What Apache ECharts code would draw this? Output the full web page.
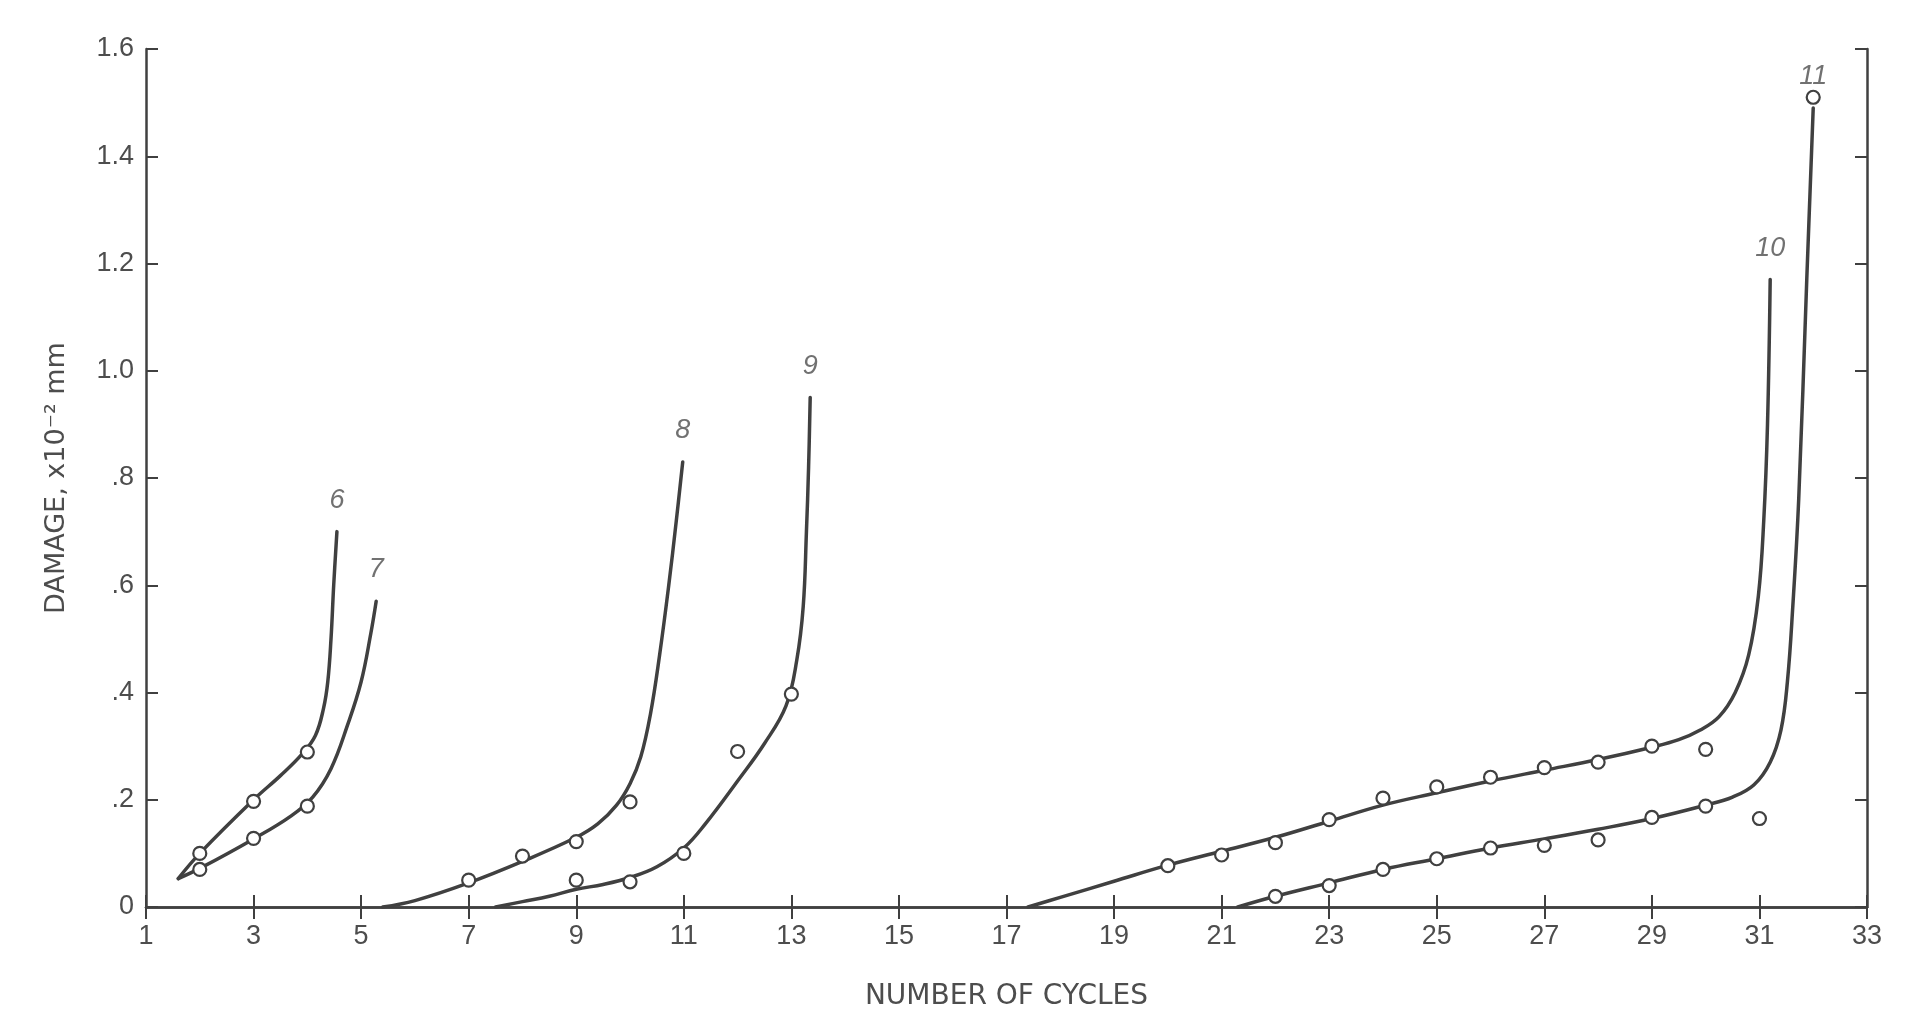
<!DOCTYPE html>
<html>
<head>
<meta charset="utf-8">
<script src="https://cdn.jsdelivr.net/npm/echarts@6/dist/echarts.min.js"></script>
<style>
html,body{margin:0;padding:0;background:#fff;}
#chart{width:1905px;height:1016px;}
</style>
</head>
<body>
<div id="chart"></div>
<script>
// ---- data ----
const xTicks = [1,3,5,7,9,11,13,15,17,19,21,23,25,27,29,31,33];
const yTicks = [0,0.2,0.4,0.6,0.8,1.0,1.2,1.4,1.6];
const curveNames = ['6','7','8','9','10','11'];

const curve6 = [[1.6,0.053],[2,0.10],[3,0.20],[3.5,0.245],[3.9,0.285],[4.15,0.32],[4.3,0.37],[4.38,0.42],[4.44,0.5],[4.49,0.6],[4.55,0.70]];
const pts6 = [[2,0.10],[3,0.197],[4,0.289]];

const curve7 = [[1.6,0.053],[2,0.072],[3,0.127],[3.7,0.17],[4.1,0.205],[4.44,0.258],[4.75,0.34],[5.0,0.42],[5.18,0.51],[5.28,0.57]];
const pts7 = [[2,0.07],[3,0.128],[4,0.188]];

const curve8 = [[5.4,0],[6,0.012],[7,0.045],[8,0.085],[9,0.13],[9.4,0.155],[9.75,0.19],[10.0,0.23],[10.2,0.28],[10.38,0.36],[10.55,0.47],[10.72,0.6],[10.86,0.72],[10.98,0.83]];
const pts8 = [[7,0.05],[8,0.095],[9,0.122],[10,0.196]];

const curve9 = [[7.5,0],[8,0.01],[8.5,0.02],[9,0.033],[9.5,0.042],[10,0.055],[10.5,0.075],[11,0.11],[11.4,0.155],[12,0.235],[12.5,0.305],[12.9,0.375],[13.1,0.46],[13.22,0.56],[13.28,0.7],[13.32,0.82],[13.35,0.95]];
const pts9 = [[9,0.05],[10,0.047],[11,0.10],[12,0.29],[13,0.397]];

const curve10 = [[17.4,0],[18,0.018],[19,0.048],[20,0.078],[21,0.104],[22,0.13],[23,0.16],[24,0.19],[25,0.213],[26,0.235],[27,0.255],[28,0.275],[29,0.298],[29.5,0.312],[29.9,0.33],[30.25,0.355],[30.55,0.40],[30.8,0.47],[30.98,0.58],[31.08,0.72],[31.15,0.9],[31.2,1.17]];
const pts10 = [[20,0.077],[21,0.097],[22,0.12],[23,0.163],[24,0.203],[25,0.224],[26,0.242],[27,0.26],[28,0.27],[29,0.30],[30,0.294]];

const curve11 = [[21.3,0],[22,0.02],[23,0.045],[24,0.07],[25,0.09],[26,0.11],[27,0.127],[28,0.145],[29,0.165],[30,0.19],[30.5,0.205],[30.9,0.228],[31.2,0.27],[31.4,0.33],[31.52,0.42],[31.62,0.56],[31.73,0.76],[31.88,1.17],[32.0,1.49]];
const pts11 = [[22,0.02],[23,0.04],[24,0.07],[25,0.09],[26,0.11],[27,0.115],[28,0.125],[29,0.167],[30,0.188],[31,0.165],[32,1.51]];

const curves = [curve6,curve7,curve8,curve9,curve10,curve11];
const points = [pts6,pts7,pts8,pts9,pts10,pts11];

// ---- chart ----
const INK = '#404040';
const TXT = '#4d4d4d';
const FONT = 'Liberation Sans';
const chart = echarts.init(document.getElementById('chart'));

const series = [];
curves.forEach((c) => {
  series.push({
    type: 'line',
    data: c,
    smooth: 0.4,
    showSymbol: false,
    symbol: 'none',
    lineStyle: {color: INK, width: 3.5, cap: 'round', join: 'round'},
    z: 2,
    silent: true
  });
});
points.forEach((p) => {
  series.push({
    type: 'scatter',
    data: p,
    symbol: 'circle',
    symbolSize: 13,
    itemStyle: {color: '#fff', borderColor: INK, borderWidth: 2.2, opacity: 1},
    z: 3,
    silent: true
  });
});
// curve number labels, anchored at each curve's end
series.push({
  type: 'scatter',
  symbolSize: 0,
  data: curves.map((c, k) => ({name: curveNames[k], value: c[c.length - 1]})),
  label: {show: true, position: 'top', distance: 18, formatter: '{b}',
    fontStyle: 'italic', fontSize: 27, color: TXT, fontFamily: FONT},
  z: 4,
  silent: true
});

const yFmt = v => {
  if (Math.abs(v) < 1e-9) return '0';
  if (v < 1) return '.' + Math.round(v * 10);
  return v.toFixed(1);
};

chart.setOption({
  animation: false,
  backgroundColor: '#fff',
  grid: {left: 146, right: 38, top: 49, bottom: 107},
  xAxis: [{
    type: 'value', min: xTicks[0], max: xTicks[xTicks.length - 1], interval: 2,
    name: 'NUMBER OF CYCLES', nameLocation: 'middle', nameGap: 76,
    nameTextStyle: {color: TXT, fontSize: 28, fontFamily: 'DejaVu Sans'},
    axisLine: {show: true, lineStyle: {color: INK, width: 2.5}},
    axisTick: {show: true, inside: true, length: 12, lineStyle: {color: INK, width: 2}},
    axisLabel: {color: TXT, fontSize: 27, fontFamily: FONT, margin: 16},
    splitLine: {show: false}
  }, {
    type: 'value', position: 'top', min: xTicks[0], max: xTicks[xTicks.length - 1], interval: 2,
    axisLine: {show: true, lineStyle: {color: INK, width: 2.5}},
    axisTick: {show: true, inside: true, length: 12, lineStyle: {color: INK, width: 2}},
    axisLabel: {show: false},
    splitLine: {show: false}
  }],
  yAxis: [{
    type: 'value', min: yTicks[0], max: yTicks[yTicks.length - 1], interval: 0.2,
    name: 'DAMAGE, x10⁻² mm', nameLocation: 'middle', nameGap: 76, nameRotate: 90,
    nameTextStyle: {color: TXT, fontSize: 27, fontFamily: 'DejaVu Sans'},
    axisLine: {show: true, lineStyle: {color: INK, width: 2.5}},
    axisTick: {show: true, inside: true, length: 12, lineStyle: {color: INK, width: 2}},
    axisLabel: {color: TXT, fontSize: 27, fontFamily: FONT, margin: 12, formatter: yFmt},
    splitLine: {show: false}
  }, {
    type: 'value', position: 'right', min: yTicks[0], max: yTicks[yTicks.length - 1], interval: 0.2,
    axisLine: {show: true, lineStyle: {color: INK, width: 2.5}},
    axisTick: {show: true, inside: true, length: 12, lineStyle: {color: INK, width: 2}},
    axisLabel: {show: false},
    splitLine: {show: false}
  }],
  series: series
});
</script>
</body>
</html>
